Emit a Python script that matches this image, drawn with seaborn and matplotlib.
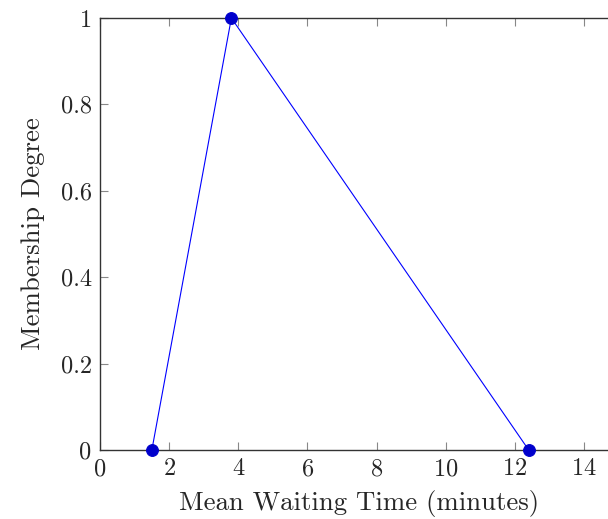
import numpy as np
import pandas as pd
import matplotlib
matplotlib.use("Agg")
import matplotlib.pyplot as plt
import seaborn as sns

# membership function points
waiting_time = [1.5, 3.8, 12.4]
membership = [0, 1, 0]

df = pd.DataFrame({"time": waiting_time, "degree": membership})

sns.set_style("ticks")
plt.rcParams["font.family"] = ["cmr10", "DejaVu Serif"]
plt.rcParams["axes.formatter.use_mathtext"] = True

fig = plt.figure(figsize=(6.08, 5.19), dpi=100)
ax = fig.add_axes([100 / 608, 69 / 519, 518.6 / 608, 432 / 519])

sns.lineplot(data=df, x="time", y="degree", ax=ax, color="blue", linewidth=0.8,
             marker="o", markersize=8.5, markerfacecolor=(0, 0, 0.8),
             markeredgecolor=(0, 0, 0.8), clip_on=False, zorder=3)

ax.set_xlim(0, 15)
ax.set_ylim(0, 1)
ax.set_xticks(np.arange(0, 15, 2))
ax.set_yticks([0, 0.2, 0.4, 0.6, 0.8, 1])
ax.set_yticklabels(["0", "0.2", "0.4", "0.6", "0.8", "1"])
ax.tick_params(direction="in", length=6, width=0.8, color="#888888",
               top=True, right=True, labelsize=17.5, pad=6)
for s in ax.spines.values():
    s.set_visible(True)
    s.set_linewidth(1.0)
    s.set_color("#333333")

ax.set_xlabel("Mean Waiting Time (minutes)", fontsize=19.3, labelpad=7)
ax.set_ylabel("Membership Degree", fontsize=19.3, labelpad=11)

fig.savefig("out.png", dpi=100)
